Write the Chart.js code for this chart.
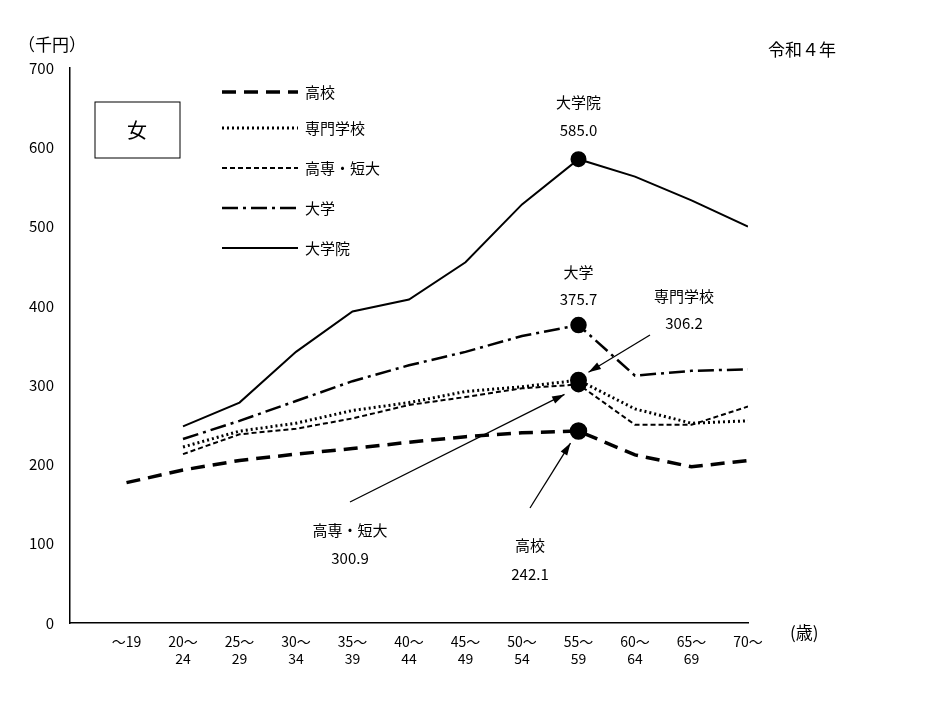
<!DOCTYPE html>
<html><head><meta charset="utf-8">
<script src="https://cdn.jsdelivr.net/npm/chart.js@4"></script>
<style>body{margin:0;background:#fff}</style></head>
<body><canvas id="c" width="931" height="719"></canvas>
<script>
const categories=[["～19",""],["20～","24"],["25～","29"],["30～","34"],["35～","39"],["40～","44"],["45～","49"],["50～","54"],["55～","59"],["60～","64"],["65～","69"],["70～",""]];
const koukou=[177,193,205,213,220,228,235,240,242.1,212,197,205];
const senmon=[null,222,242,252,268,278,292,298,306.2,270,252,255];
const tandai=[null,213,238,245,258,275,285,296,300.9,250,250,273];
const daigaku=[null,232,255,280,305,325,342,362,375.7,312,318,320];
const daigakuin=[null,248,278,342,393,408,455,528,585.0,563,533,500];
const yTicks=[0,100,200,300,400,500,600,700];
const F='"Noto Sans CJK JP", sans-serif';
const series=[
 {label:'高校',data:koukou,dash:[14,8],w:3.5},
 {label:'専門学校',data:senmon,dash:[2,3],w:3},
 {label:'高専・短大',data:tandai,dash:[5,3],w:2},
 {label:'大学',data:daigaku,dash:[16,5,3,5],w:2.5},
 {label:'大学院',data:daigakuin,dash:[],w:2}
];
const ds=series.map(s=>{const pts=[];s.data.forEach((v,i)=>{if(v!=null)pts.push({x:i,y:v});});
 return {label:s.label,data:pts,borderColor:'#000',borderWidth:s.w,borderDash:s.dash,
 pointRadius:pts.map(p=>p.x===8?7:0),pointBackgroundColor:'#000',pointBorderColor:'#000',fill:false,tension:0};});
const deco={id:'deco',afterDraw(ch){
 const c=ch.ctx,xs=ch.scales.x,ys=ch.scales.y;
 c.save();c.fillStyle='#000';c.strokeStyle='#000';
 c.font='17px '+F;c.textAlign='left';c.textBaseline='middle';
 c.fillText('（千円）',18,45);c.fillText('令和４年',768,50);c.fillText('(歳)',790,633);
 c.lineWidth=1;c.setLineDash([]);c.strokeRect(95,102,85,56);
 c.font='20px '+F;c.textAlign='center';c.fillText('女',137,130);
 c.font='15px '+F;c.textAlign='left';
 const ly=[92,128,168,208,248];
 series.forEach((s,i)=>{c.beginPath();c.lineWidth=s.w;c.setLineDash(s.dash);c.moveTo(222,ly[i]);c.lineTo(298,ly[i]);c.stroke();c.setLineDash([]);c.fillText(s.label,305,ly[i]);});
 c.textAlign='center';c.font='15px '+F;
 const X=i=>xs.getPixelForValue(i),Y=v=>ys.getPixelForValue(v);
 c.fillText('大学院',X(8),102);c.fillText('585.0',X(8),130);
 c.fillText('大学',X(8),272);c.fillText('375.7',X(8),299);
 c.fillText('専門学校',684,296);c.fillText('306.2',684,323);
 c.fillText('高専・短大',350,530);c.fillText('300.9',350,558);
 c.fillText('高校',530,545);c.fillText('242.1',530,574);
 function arrow(x1,y1,x2,y2){c.lineWidth=1.3;c.beginPath();c.moveTo(x1,y1);c.lineTo(x2,y2);c.stroke();
  const a=Math.atan2(y2-y1,x2-x1),L=13;c.beginPath();c.moveTo(x2,y2);c.lineTo(x2-L*Math.cos(a-0.3),y2-L*Math.sin(a-0.3));c.lineTo(x2-L*Math.cos(a+0.3),y2-L*Math.sin(a+0.3));c.closePath();c.fill();}
 arrow(650,335,X(8)+10,Y(306.2)-8);
 arrow(350,502,X(8)-14,Y(300.9)+10);
 arrow(530,508,X(8)-8,Y(242.1)+12);
 c.restore();}};
new Chart(document.getElementById('c'),{type:'line',data:{datasets:ds},plugins:[deco],
options:{responsive:false,animation:false,layout:{padding:{top:68,right:183,left:0,bottom:0}},
plugins:{legend:{display:false},tooltip:{enabled:false}},
scales:{
 x:{type:'linear',min:-1,max:11,afterFit:s=>{s.height=96},afterBuildTicks:s=>{s.ticks=categories.map((_,i)=>({value:i}))},
  grid:{display:false,drawTicks:false},border:{color:'#000',width:1.5},
  ticks:{color:'#000',font:{family:F,size:14},padding:10,maxRotation:0,autoSkip:false,callback:(v)=>categories[v]}},
 y:{min:0,max:700,afterFit:s=>{s.width=70},afterBuildTicks:s=>{s.ticks=yTicks.map(v=>({value:v}))},
  grid:{display:false},border:{color:'#000',width:1.5},
  ticks:{color:'#000',font:{family:F,size:15},padding:8}}
}}});
</script></body></html>
